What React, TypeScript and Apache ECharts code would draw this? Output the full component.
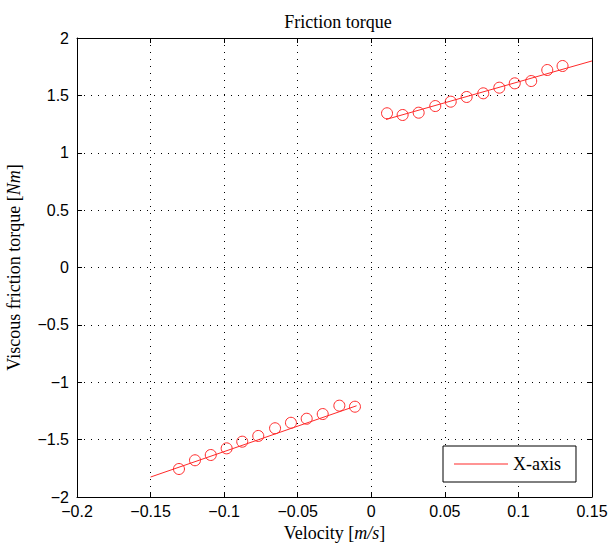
import React, { useEffect, useRef } from "react";
import * as echarts from "echarts";

const posVelocity = [0.0107, 0.0213, 0.0322, 0.0435, 0.054, 0.0648, 0.0761, 0.087, 0.0975, 0.1087, 0.1196, 0.130];
const posTorque = [1.344, 1.329, 1.349, 1.407, 1.445, 1.486, 1.518, 1.567, 1.605, 1.625, 1.721, 1.756];
const negVelocity = [-0.1307, -0.1198, -0.1091, -0.0983, -0.0877, -0.0768, -0.0654, -0.0546, -0.0439, -0.033, -0.0217, -0.0111];
const negTorque = [-1.756, -1.68, -1.634, -1.576, -1.518, -1.468, -1.401, -1.353, -1.318, -1.277, -1.204, -1.213];
const posFit = [[0.01, 1.29], [0.15, 1.8]];
const negFit = [[-0.15, -1.826], [-0.01, -1.205]];

const SERIF = "'Liberation Serif', 'DejaVu Serif', serif";
const SANS = "'Liberation Sans', Arial, sans-serif";
const RED = "#ff2a2a";
const FS = 18;
const fmt = (v: number) => String(Math.round(v * 1000) / 1000).replace("-", "\u2212");

export default function App() {
  const ref = useRef<HTMLDivElement>(null);
  useEffect(() => {
    const chart = echarts.init(ref.current!, undefined, { renderer: "svg" });
    const xBase = { type: "value", min: -0.2, max: 0.15, interval: 0.05 };
    const yBase = { type: "value", min: -2, max: 2, interval: 0.5 };
    const axLine = { show: true, onZero: false, lineStyle: { color: "#000", width: 1 } };
    const tick = { show: true, inside: true, length: 5, lineStyle: { color: "#000" } };
    const grid = { show: true, lineStyle: { color: "#000", type: [1, 6], width: 1 } };
    const nameStyle = {
      fontFamily: SERIF, fontSize: FS, color: "#000",
      rich: {
        t: { fontFamily: SERIF, fontSize: FS, color: "#000" },
        i: { fontStyle: "italic", fontFamily: SERIF, fontSize: FS, color: "#000" },
      },
    };
    const markerStyle = { color: "rgba(0,0,0,0)", borderColor: RED, borderWidth: 1, opacity: 1 };
    chart.setOption({
      animation: false,
      backgroundColor: "#fff",
      title: {
        text: "Friction torque",
        left: 333,
        textAlign: "center",
        top: 8,
        textStyle: { fontFamily: SERIF, fontSize: FS, fontWeight: "normal", color: "#000" },
      },
      grid: { left: 77, right: 19, top: 38, bottom: 48, containLabel: false, outerBoundsMode: "none" },
      legend: {
        left: 443,
        top: 446,
        data: [{ name: "X-axis", icon: "rect" }],
        backgroundColor: "#fff",
        borderColor: "#000",
        borderWidth: 1,
        borderRadius: 0,
        padding: [9, 15, 9, 11],
        itemWidth: 54,
        itemHeight: 1,
        itemStyle: { color: RED },
        textStyle: { fontFamily: SERIF, fontSize: FS, color: "#000" },
      },
      xAxis: [
        {
          ...xBase,
          position: "bottom",
          axisLine: axLine,
          axisTick: tick,
          splitLine: grid,
          axisLabel: { formatter: fmt, fontFamily: SANS, fontSize: 16, color: "#000", margin: 6 },
          name: "{t|Velocity [}{i|m/s}{t|]}",
          nameLocation: "middle",
          nameGap: 26,
          nameTextStyle: nameStyle,
        },
        {
          ...xBase,
          position: "top",
          axisLine: axLine,
          axisTick: tick,
          splitLine: { show: false },
          axisLabel: { show: false },
        },
      ],
      yAxis: [
        {
          ...yBase,
          position: "left",
          axisLine: axLine,
          axisTick: tick,
          splitLine: grid,
          axisLabel: { formatter: fmt, fontFamily: SANS, fontSize: 16, color: "#000", margin: 8 },
          name: "{t|Viscous friction torque [}{i|Nm}{t|]}",
          nameLocation: "middle",
          nameRotate: 90,
          nameGap: 54,
          nameTextStyle: nameStyle,
        },
        {
          ...yBase,
          position: "right",
          axisLine: axLine,
          axisTick: tick,
          splitLine: { show: false },
          axisLabel: { show: false },
        },
      ],
      series: [
        {
          name: "X-axis",
          type: "line",
          data: posFit,
          symbol: "none",
          lineStyle: { color: RED, width: 1 },
          itemStyle: { color: RED },
        },
        {
          name: "X-axis",
          type: "line",
          data: negFit,
          symbol: "none",
          lineStyle: { color: RED, width: 1 },
          itemStyle: { color: RED },
        },
        {
          name: "pos",
          type: "scatter",
          data: posVelocity.map((v, i) => [v, posTorque[i]]),
          symbol: "circle",
          symbolSize: 11,
          itemStyle: markerStyle,
          z: 3,
        },
        {
          name: "neg",
          type: "scatter",
          data: negVelocity.map((v, i) => [v, negTorque[i]]),
          symbol: "circle",
          symbolSize: 11,
          itemStyle: markerStyle,
          z: 3,
        },
      ],
    });
    return () => chart.dispose();
  }, []);
  return <div ref={ref} style={{ width: 611, height: 545, position: "absolute", left: 0, top: 0 }} />;
}
